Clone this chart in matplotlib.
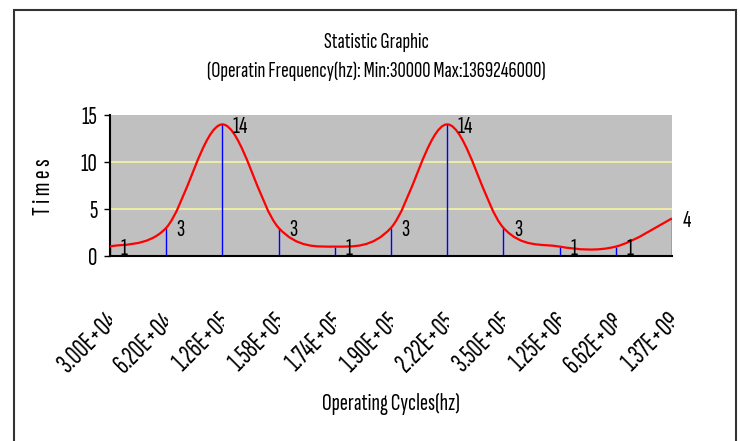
import matplotlib
matplotlib.use('Agg')
import matplotlib.pyplot as plt
import numpy as np
from matplotlib.path import Path
from matplotlib.patches import PathPatch, Rectangle
from matplotlib.textpath import TextPath
from matplotlib.font_manager import FontProperties
from matplotlib.transforms import (blended_transform_factory, ScaledTranslation,
                                   Bbox, TransformedBbox)

# ---- data ----
categories = ['3.00E+04', '6.20E+04', '1.26E+05', '1.58E+05', '1.74E+05', '1.90E+05',
              '2.22E+05', '3.50E+05', '1.25E+06', '6.62E+08', '1.37E+09']
times = [1, 3, 14, 3, 1, 3, 14, 3, 1, 1, 4]
yticks = [0, 5, 10, 15]
title = 'Statistic Graphic'
subtitle = '(Operatin Frequency(hz): Min:30000 Max:1369246000)'
xlabel = 'Operating Cycles(hz)'
ylabel = 'T i m e s'

FONT = 'Sofia Sans Extra Condensed'
plt.rcParams['font.family'] = [FONT, 'Liberation Sans', 'DejaVu Sans']

DPI = 100
_cap_em = TextPath((0, 0), 'H', prop=FontProperties(family=[FONT, 'Liberation Sans']),
                   size=1000).get_extents().height / 1000.0


def fs(cap_px):
    """font size (pt) giving the requested cap height in pixels"""
    return cap_px / _cap_em * 72.0 / DPI


W, H = 740, 441
fig = plt.figure(figsize=(W / DPI, H / DPI), dpi=DPI)
fig.patch.set_facecolor('white')
ax = fig.add_axes([110 / W, 1 - 256 / H, (672 - 110) / W, (256 - 115) / H])

x = np.arange(len(times))
ax.set_xlim(0, len(times) - 1)
ax.set_ylim(yticks[0], yticks[-1])
ax.set_facecolor('#C0C0C0')

# inner grid lines
for g in yticks[1:-1]:
    ax.axhline(g, color='#F2F0A6', lw=1.3, zorder=1)

# drop lines
ax.vlines(x, 0, times, colors='#0000FF', lw=1.0, zorder=2)

# smoothed line (bezier through the points)
pts = np.column_stack([x, times]).astype(float)
n = len(pts)
verts = [pts[0]]
codes = [Path.MOVETO]
for i in range(n - 1):
    p0 = pts[max(i - 1, 0)]
    p1 = pts[i]
    p2 = pts[i + 1]
    p3 = pts[min(i + 2, n - 1)]
    c1 = p1 + (p2 - p0) / 6.0
    c2 = p2 - (p3 - p1) / 6.0
    verts += [c1, c2, p2]
    codes += [Path.CURVE4] * 3
ax.add_patch(PathPatch(Path(verts, codes), fill=False, edgecolor='#FF0000', lw=1.6, zorder=3))

# data labels
for xi, v in zip(x, times):
    ax.annotate(str(v), (xi, v), xytext=(7.5, 0), textcoords='offset points',
                ha='left', va='center_baseline', fontsize=fs(16), zorder=4,
                annotation_clip=False)

# axes styling
for s in ['top', 'right']:
    ax.spines[s].set_visible(False)
for s in ['left', 'bottom']:
    ax.spines[s].set_color('black')
    ax.spines[s].set_linewidth(1.5)
ax.set_xticks([])
ax.set_yticks(yticks)
ax.tick_params(axis='y', length=4, width=1, direction='out', pad=5, labelsize=fs(17),
               colors='black')

# category labels, rotated and clipped like the original
blend = blended_transform_factory(ax.transData, fig.transFigure)
for xi, lab in zip(x, categories):
    t = fig.text(xi, 1 - 309 / H, lab, rotation=45, ha='right', va='top', fontsize=fs(18),
                 transform=blend + ScaledTranslation(0.13, 0, fig.dpi_scale_trans))
    t.set_clip_box(TransformedBbox(Bbox([[-5, 0], [xi, 1]]),
                                   blend + ScaledTranslation(0.015, 0, fig.dpi_scale_trans)))
    t.set_clip_on(True)

# titles and axis labels
fig.text(376.5 / W, 1 - 48 / H, title, ha='center', va='baseline', fontsize=fs(15))
fig.text(376.5 / W, 1 - 77 / H, subtitle, ha='center', va='baseline', fontsize=fs(15))
fig.text(391 / W, 1 - 410 / H, xlabel, ha='center', va='baseline', fontsize=fs(16))
fig.text(44 / W, 1 - 187 / H, ylabel, ha='center', va='center', rotation=90, fontsize=fs(17.5))

# outer border
fig.patches.append(Rectangle((14 / W, -0.05), (736 - 14) / W, (1 - 10 / H) + 0.05,
                             transform=fig.transFigure, fill=False,
                             edgecolor='#333333', lw=1.5))

fig.savefig('out.png', dpi=DPI)
